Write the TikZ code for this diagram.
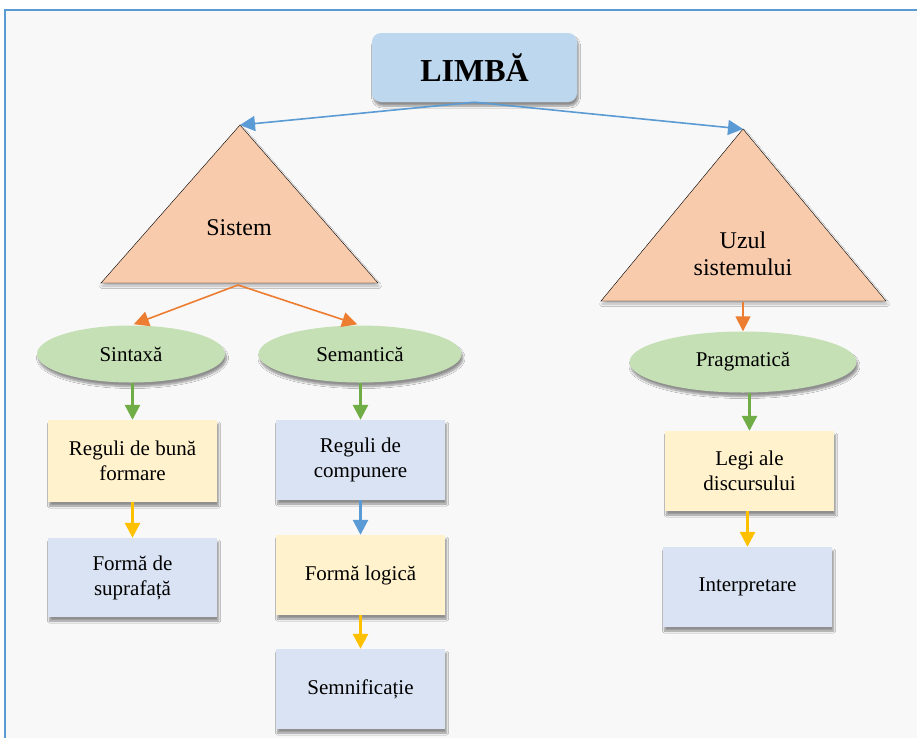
\documentclass[tikz,border=0pt]{standalone}
\usepackage{fontspec}
\setmainfont{Liberation Serif}
\usetikzlibrary{arrows.meta,shapes.geometric,shadows.blur}

\definecolor{panelbg}{HTML}{F8F8F8}
\definecolor{frameblue}{HTML}{5B9BD5}
\definecolor{titlefill}{HTML}{BDD7EE}
\definecolor{trifill}{HTML}{F8CBAD}
\definecolor{ellfill}{HTML}{C5E0B4}
\definecolor{yelfill}{HTML}{FFF2CC}
\definecolor{bluefill}{HTML}{DAE3F3}
\definecolor{arrorange}{HTML}{ED7D31}
\definecolor{arrgreen}{HTML}{70AD47}
\definecolor{arryellow}{HTML}{FFC000}
\definecolor{arrblue}{HTML}{5B9BD5}

\tikzset{
  softshadow/.style={blur shadow={shadow xshift=1.5pt, shadow yshift=-4pt,
      shadow blur radius=2pt, shadow blur steps=8, shadow opacity=42}},
  trishadow/.style={blur shadow={shadow xshift=1pt, shadow yshift=-3pt,
      shadow blur radius=2.5pt, shadow blur steps=8, shadow opacity=28}},
  titlebox/.style={rectangle, rounded corners=9pt, fill=titlefill, softshadow,
      minimum width=205pt, minimum height=69pt, inner sep=0pt,
      font=\fontsize{32}{36}\selectfont\bfseries},
  tri/.style={fill=trifill, trishadow},
  trilabel/.style={align=center, inner sep=0pt, font=\fontsize{24}{27}\selectfont},
  oval/.style={ellipse, fill=ellfill, softshadow, inner sep=0pt,
      minimum height=57pt, font=\fontsize{21}{25}\selectfont},
  cardbox/.style={rectangle, softshadow, inner sep=0pt, align=center,
      minimum width=169pt, minimum height=80pt, font=\fontsize{21}{25}\selectfont},
  yelbox/.style={cardbox, fill=yelfill},
  bluebox/.style={cardbox, fill=bluefill},
  tipstyle/.style={-{Triangle[length=15pt,width=15pt]}},
  linkblue/.style={tipstyle, draw=arrblue, line width=1.6pt},
  linkorange/.style={tipstyle, draw=arrorange, line width=1.6pt},
  vgreen/.style={tipstyle, draw=arrgreen, line width=2.8pt},
  vyellow/.style={tipstyle, draw=arryellow, line width=2.8pt},
  vblue/.style={tipstyle, draw=arrblue, line width=2.8pt},
}

\begin{document}
\begin{tikzpicture}[x=1pt, y=-1pt]
  \useasboundingbox (0,0) rectangle (917,737);
  \clip (0,0) rectangle (917,737);
  \fill[white] (0,0) rectangle (917,737);
  % panel with its blue frame
  \draw[draw=frameblue, line width=1.6pt, fill=panelbg] (5,10) rectangle (935,760);

  % title
  \node[titlebox] (limba) at (474.5,67.5) {LIMBĂ};

  % two triangles
  \draw[tri] (240,125) coordinate (sisTop) -- (378,283) -- (101,283) -- cycle;
  \coordinate (sisBase) at (238,285);
  \node[trilabel] (sistem) at (239,228) {Sistem};

  \draw[tri] (743,129) coordinate (uzTop) -- (886,301) -- (601,301) -- cycle;
  \coordinate (uzBase) at (743,302);
  \node[trilabel] (uzul) at (743,254) {Uzul\\sistemului};

  % ellipses
  \node[oval, minimum width=188pt] (sintaxa) at (131,354) {Sintaxă};
  \node[oval, minimum width=203pt] (semantica) at (360,354) {Semantică};
  \node[oval, minimum width=227pt, minimum height=61pt] (pragmatica) at (743,362) {Pragmatică};

  % boxes
  \node[yelbox, minimum height=82pt] (reg1) at (132.5,461) {Reguli de bună\\formare};
  \node[bluebox, minimum height=79pt] (supr) at (132.5,577.5) {Formă de\\suprafață};
  \node[bluebox] (reg2) at (360.5,460) {Reguli de\\compunere};
  \node[yelbox] (logica) at (360.5,575) {Formă logică};
  \node[bluebox] (semnif) at (360.5,689) {Semnificație};
  \node[yelbox] (legi) at (749.5,471) {Legi ale\\discursului};
  \node[bluebox] (interp) at (747.5,587) {Interpretare};

  % connectors
  \draw[linkblue] (limba.south) -- (sisTop);
  \draw[linkblue] (limba.south) -- (uzTop);
  \draw[linkorange, shorten >=3pt] (sisBase) -- (sintaxa.north);
  \draw[linkorange, shorten >=3pt] (sisBase) -- (semantica.north);
  \draw[linkorange] (uzBase) -- (pragmatica.north);

  \draw[vgreen] (reg1.north |- sintaxa.south) -- (reg1.north);
  \draw[vgreen] (reg2.north |- semantica.south) -- (reg2.north);
  \draw[vgreen] (legi.north |- pragmatica.south) -- (legi.north);

  \draw[vyellow] (reg1.south) -- (supr.north);
  \draw[vblue] (reg2.south) -- (logica.north);
  \draw[vyellow] (logica.south) -- (semnif.north);
  \draw[vyellow] (interp.north |- legi.south) -- (interp.north);
\end{tikzpicture}
\end{document}
